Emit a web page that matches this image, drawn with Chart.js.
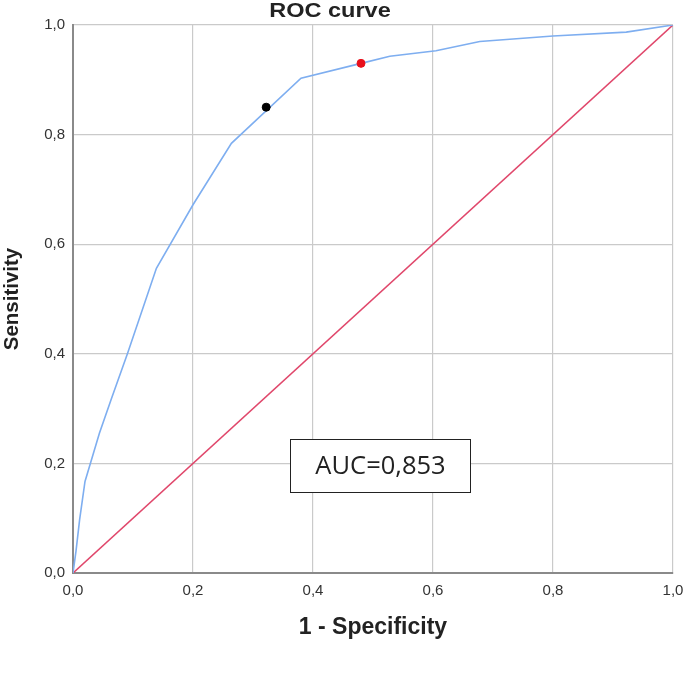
<!DOCTYPE html>
<html>
<head>
<meta charset="utf-8">
<script src="https://cdn.jsdelivr.net/npm/chart.js@4.4.1/dist/chart.umd.min.js"></script>
<style>
  html, body { margin: 0; padding: 0; background: #fff; }
  #wrap { width: 685px; height: 679px; }
</style>
</head>
<body>
<div id="wrap"><canvas id="rocChart" width="685" height="679"></canvas></div>
<script>
// ROC curve (1 - specificity, sensitivity)
var rocFpr = [0, 0.005, 0.011, 0.02, 0.044, 0.064, 0.091, 0.139, 0.2, 0.264, 0.38, 0.48, 0.528, 0.605, 0.678, 0.80, 0.922, 1.0]
var rocTpr = [0, 0.04, 0.097, 0.167, 0.255, 0.318, 0.401, 0.556, 0.672, 0.784, 0.903, 0.93, 0.943, 0.953, 0.970, 0.980, 0.987, 1.0]

// reference (chance) line
var refX = [0, 1]
var refY = [0, 1]

// marked cut-off points
var blackX = [0.322]
var blackY = [0.850]
var redX = [0.480]
var redY = [0.930]

var tickValues = [0, 0.2, 0.4, 0.6, 0.8, 1.0]
var aucText = "AUC=0,853"

function toPoints(xs, ys) {
    var pts = []
    for (var i = 0; i < xs.length; i++) {
        pts.push({x: xs[i], y: ys[i]})
    }
    return pts
}

function commaLabel(v) {
    return v.toFixed(1).replace(".", ",")
}

// title and AUC box drawn on top
var extras = {
    id: "extras",
    afterDraw: function(chart) {
        var ctx = chart.ctx
        ctx.save()
        ctx.fillStyle = "#222"
        ctx.font = "bold 21px 'Liberation Sans', Arial, sans-serif"
        ctx.textAlign = "center"
        ctx.textBaseline = "alphabetic"
        ctx.translate(330, 17)
        ctx.scale(1.12, 1)
        ctx.fillText("ROC curve", 0, 0)
        ctx.restore()

        // AUC box, anchored to data coordinates
        var xs = chart.scales.x, ys = chart.scales.y
        var bx = Math.round(xs.getPixelForValue(0.362)) + 0.5
        var by = Math.round(ys.getPixelForValue(0.244)) + 0.5
        var bw = 180, bh = 53
        ctx.save()
        ctx.fillStyle = "#fff"
        ctx.fillRect(bx, by, bw, bh)
        ctx.strokeStyle = "#222"
        ctx.lineWidth = 1
        ctx.strokeRect(bx, by, bw, bh)
        ctx.fillStyle = "#222"
        ctx.font = "25.5px 'Open Sans', sans-serif"
        ctx.textAlign = "center"
        ctx.textBaseline = "middle"
        ctx.fillText(aucText, bx + bw / 2, by + bh / 2 + 1)
        ctx.restore()
    }
}

var ctx = document.getElementById("rocChart").getContext("2d")
var myChart = new Chart(ctx, {
    type: "scatter",
    data: {
        datasets: [{
            label: "ROC",
            data: toPoints(rocFpr, rocTpr),
            showLine: true,
            borderColor: "#7eaef0",
            borderWidth: 1.6,
            pointRadius: 0,
            tension: 0,
            order: 2
        }, {
            label: "Reference",
            data: toPoints(refX, refY),
            showLine: true,
            borderColor: "#e0476b",
            borderWidth: 1.6,
            pointRadius: 0,
            order: 3
        }, {
            label: "cut-off 1",
            data: toPoints(blackX, blackY),
            pointRadius: 4,
            pointBackgroundColor: "#000",
            pointBorderColor: "#000",
            order: 1
        }, {
            label: "cut-off 2",
            data: toPoints(redX, redY),
            pointRadius: 4,
            pointBackgroundColor: "#e8101c",
            pointBorderColor: "#e8101c",
            order: 1
        }]
    },
    options: {
        responsive: false,
        animation: false,
        layout: {
            padding: {left: 0, right: 0, top: 25, bottom: 0}
        },
        scales: {
            x: {
                type: "linear",
                min: 0,
                max: 1,
                afterBuildTicks: function(scale) {
                    scale.ticks = tickValues.map(function(v) { return {value: v} })
                },
                afterFit: function(scale) {
                    scale.height = 106
                    scale.paddingRight = 12
                },
                ticks: {
                    color: "#333",
                    font: {family: "'Liberation Sans', Arial, sans-serif", size: 15},
                    padding: 9,
                    maxRotation: 0,
                    callback: function(v) { return commaLabel(v) }
                },
                grid: {color: "#cacaca", lineWidth: 1.2, drawTicks: false},
                border: {color: "#8a8a8a", width: 2},
                title: {
                    display: true,
                    text: "1 - Specificity",
                    color: "#222",
                    font: {family: "'Liberation Sans', Arial, sans-serif", size: 23, weight: "bold"},
                    padding: {top: 0, bottom: 38}
                }
            },
            y: {
                type: "linear",
                min: 0,
                max: 1,
                afterBuildTicks: function(scale) {
                    scale.ticks = tickValues.map(function(v) { return {value: v} })
                },
                afterFit: function(scale) { scale.width = 73 },
                ticks: {
                    color: "#333",
                    font: {family: "'Liberation Sans', Arial, sans-serif", size: 15},
                    padding: 8,
                    callback: function(v) { return commaLabel(v) }
                },
                grid: {color: "#cacaca", lineWidth: 1.2, drawTicks: false},
                border: {color: "#8a8a8a", width: 2},
                title: {
                    display: true,
                    text: "Sensitivity",
                    color: "#222",
                    font: {family: "'Liberation Sans', Arial, sans-serif", size: 20.5, weight: "bold"},
                    padding: {top: 0, bottom: 0}
                }
            }
        },
        plugins: {
            legend: {display: false},
            tooltip: {enabled: false}
        }
    },
    plugins: [extras]
})
</script>
</body>
</html>
